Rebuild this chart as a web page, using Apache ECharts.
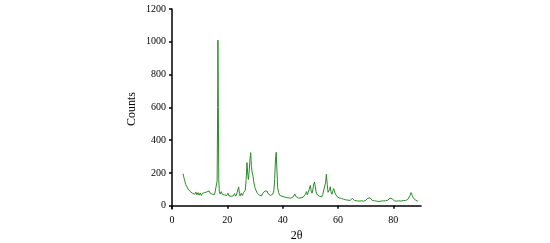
<!DOCTYPE html>
<html>
<head>
<meta charset="utf-8">
<script src="https://cdn.jsdelivr.net/npm/echarts@6/dist/echarts.min.js"></script>
<style>
html,body{margin:0;padding:0;background:#fff;}
#xrd-chart{width:550px;height:243px;}
</style>
</head>
<body>
<div id="xrd-chart"></div>
<script>
var twoTheta = [4.0,4.3,4.6,5.0,5.4,5.8,6.2,6.6,7.0,7.4,7.8,8.2,8.6,9.0,9.4,9.8,10.2,10.6,11.0,11.4,11.8,12.2,12.6,13.0,13.4,13.8,14.2,14.6,15.0,15.4,15.8,16.1,16.3,16.5,16.6,16.75,16.9,17.1,17.4,17.8,18.2,18.6,19.0,19.4,19.8,20.2,20.6,21.0,21.4,21.8,22.2,22.6,23.0,23.4,23.8,24.1,24.35,24.6,25.0,25.4,25.8,26.2,26.5,26.8,27.1,27.35,27.6,27.9,28.2,28.45,28.7,29.0,29.3,29.6,30.0,30.4,30.8,31.2,31.6,32.0,32.4,32.8,33.2,33.6,34.0,34.4,34.8,35.2,35.6,36.0,36.4,36.8,37.1,37.4,37.65,37.9,38.2,38.5,38.9,39.3,39.7,40.1,40.5,40.9,41.3,41.7,42.1,42.5,42.9,43.3,43.7,44.1,44.4,44.7,45.0,45.4,45.8,46.2,46.6,47.0,47.4,47.8,48.2,48.6,48.9,49.2,49.6,50.0,50.3,50.6,50.9,51.2,51.5,51.8,52.1,52.5,52.9,53.3,53.7,54.1,54.5,54.9,55.2,55.5,55.8,56.1,56.4,56.7,57.0,57.2,57.45,57.8,58.1,58.4,58.65,58.9,59.2,59.6,60.0,60.4,60.8,61.2,61.6,62.0,62.4,62.8,63.2,63.6,64.0,64.4,64.8,65.2,65.6,66.0,66.4,66.8,67.2,67.6,68.0,68.4,68.8,69.2,69.6,70.0,70.4,70.8,71.2,71.6,72.0,72.4,72.8,73.2,73.6,74.0,74.4,74.8,75.2,75.6,76.0,76.4,76.8,77.2,77.6,78.0,78.4,78.8,79.2,79.6,80.0,80.4,80.8,81.2,81.6,82.0,82.4,82.8,83.2,83.6,84.0,84.4,84.8,85.2,85.6,86.0,86.4,86.8,87.2,87.6,88.0,88.4,88.8,89.0];
var counts = [195,172,152,128,120,102,98,86,90,76,88,70,84,66,80,64,78,62,76,66,80,68,84,80,90,76,82,70,78,68,80,76,150,600,1010,600,160,88,72,86,68,80,66,74,62,76,60,72,58,70,60,74,58,72,64,115,76,60,76,62,78,72,95,160,263,200,160,210,290,324,240,200,180,140,110,92,78,80,64,70,60,76,72,90,78,88,72,78,62,74,70,90,160,280,326,230,110,82,64,76,58,70,54,64,50,62,48,60,46,58,52,64,72,58,50,58,46,56,48,58,52,64,70,86,66,74,100,124,90,76,98,130,145,115,84,66,72,58,68,54,70,64,80,140,192,130,82,76,100,116,85,70,82,105,114,78,68,56,62,48,58,44,54,40,50,36,46,34,44,32,42,46,38,32,40,30,38,28,38,30,36,28,38,32,40,46,38,48,40,32,38,30,36,28,34,26,36,28,38,30,36,30,40,34,42,46,48,42,38,30,36,28,36,30,38,28,36,32,38,32,40,38,50,62,80,64,48,44,34,36,28,31];
var yTicks = [0,200,400,600,800,1000,1200];
var xTicks = [0,20,40,60,80];

function xrdChart(){
	var chart = echarts.init(document.getElementById('xrd-chart'));
	var points = [];
	for (var i = 0; i < twoTheta.length; i++) {
		points.push([twoTheta[i], counts[i]]);
	}
	var font = 'Liberation Serif';
	var option = {
		animation:false,
		grid:{
			left:172,
			right:129,
			top:9,
			bottom:34,
			containLabel:false,
			outerBoundsMode:'none'
		},
		xAxis:{
			type:'value',
			min:0,
			max:90,
			name:'2θ',
			nameLocation:'middle',
			nameGap:21,
			nameTextStyle:{fontFamily:font,fontSize:12,color:'#000'},
			splitLine:{show:false},
			axisLine:{lineStyle:{color:'#000',width:1.5}},
			axisTick:{customValues:xTicks,length:3,lineStyle:{color:'#000',width:1.5}},
			axisLabel:{customValues:xTicks,margin:6,fontFamily:font,fontSize:10,color:'#000',
				formatter:function(v){ return String(v); }}
		},
		yAxis:{
			type:'value',
			min:-20,
			max:1200,
			name:'Counts',
			nameLocation:'middle',
			nameGap:34,
			nameTextStyle:{fontFamily:font,fontSize:12,color:'#000'},
			splitLine:{show:false},
			axisLine:{show:true,lineStyle:{color:'#000',width:1.5}},
			axisTick:{show:true,customValues:yTicks,length:3,lineStyle:{color:'#000',width:1.5}},
			axisLabel:{customValues:yTicks,margin:6,fontFamily:font,fontSize:10,color:'#000',
				formatter:function(v){ return String(v); }}
		},
		series:[
			{
				type:'line',
				data:points,
				showSymbol:false,
				lineStyle:{color:'#2a8a2a',width:1}
			}
		]
	};
	chart.setOption(option);
}
xrdChart();
</script>
</body>
</html>
